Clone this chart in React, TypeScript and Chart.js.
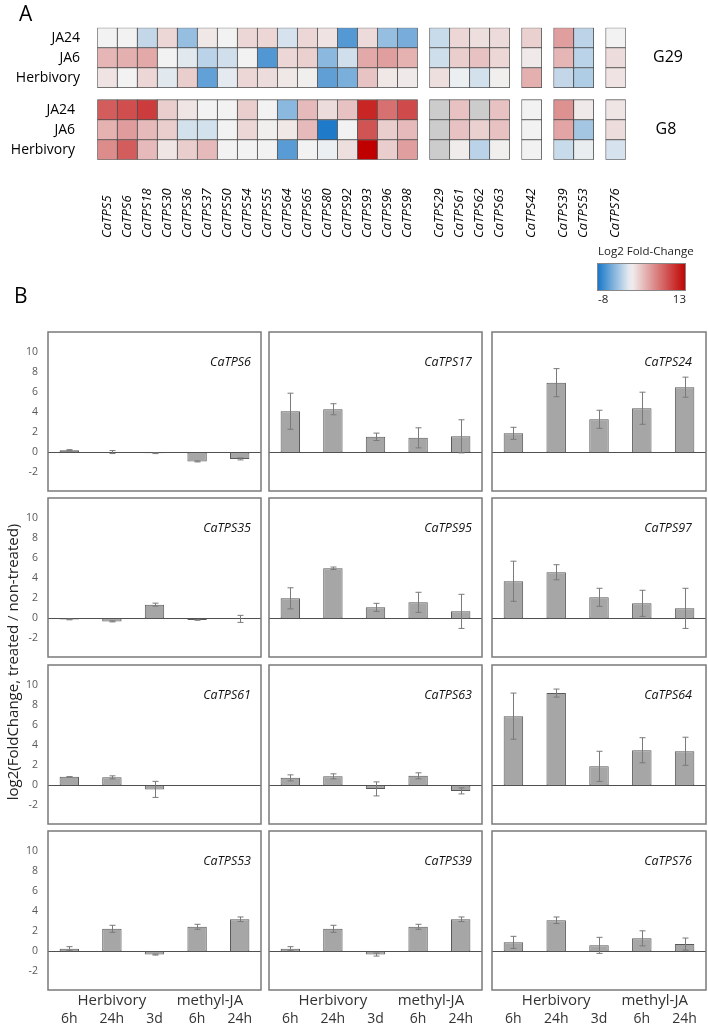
import React, { useEffect, useRef } from 'react';
import { Chart, registerables } from 'chart.js';

Chart.register(...registerables);

const FONT = "'Open Sans', 'DejaVu Sans', sans-serif";
Chart.defaults.font.family = FONT;

// ---------------- Panel A data ----------------
const genes = ['CaTPS5', 'CaTPS6', 'CaTPS18', 'CaTPS30', 'CaTPS36', 'CaTPS37', 'CaTPS50', 'CaTPS54', 'CaTPS55', 'CaTPS64', 'CaTPS65', 'CaTPS80', 'CaTPS92', 'CaTPS93', 'CaTPS96', 'CaTPS98', 'CaTPS29', 'CaTPS61', 'CaTPS62', 'CaTPS63', 'CaTPS42', 'CaTPS39', 'CaTPS53', 'CaTPS76'];
const geneGroup = [0, 0, 0, 0, 0, 0, 0, 0, 0, 0, 0, 0, 0, 0, 0, 0, 1, 1, 1, 1, 2, 3, 3, 4];
const conditionLabels = ['JA24', 'JA6', 'Herbivory'];
const blockLabels = ['G29', 'G8'];

const g29JA24 = [0, 0, -1.7, 1.5, -3.3, 0.6, 0, 1.5, 1.5, -1, 1.5, 0.8, -5.7, 1.3, -3.3, -4.4, -1.5, 1.5, 1.0, 1.3, 1.8, 4.5, -1.9, 0];
const g29JA6 = [3.2, 3.6, 4, 0, -0.6, -2, -1.2, 0, -5.8, 1.5, 1.8, -3.7, -1.2, 4, 4.5, 3.5, -1.3, 2, 2.6, 1.5, 0.5, 3.2, -2, 1.2];
const g29Herb = [0.8, 0, 1.5, -0.6, 2, -5.2, -0.5, 1.5, 1.2, 0.6, 0.2, -5.3, -4.3, 2.5, 0.6, 0.5, 1.0, -0.2, -1.1, 0.2, 3.6, -1.7, -2.4, 0.8];
const g8JA24 = [8, 8.8, 9.8, 2, 0.7, 0, 0, 2, 0, -3.7, 3, 1.2, 2.6, 11, 7, 9, null, 2.6, null, 2.6, 0, 5.2, 0.5, 0.7];
const g8JA6 = [3.5, 4.6, 3, 2, -1.1, -1.1, 0, 1.5, 0.2, 0.6, 3, -7.6, 0, 8.5, 2, 3, null, 2.6, 1.8, 2.6, 0, 4.2, -2.8, 1.2];
const g8Herb = [5.5, 8, 3, 0.7, 2, 3, 0, 0, 0, -5.5, 0, -0.2, 1, 13, 2, 4.5, null, 0.3, -2, 0.2, 0, -1.5, -0.3, -1];
const heatRows = [g29JA24, g29JA6, g29Herb, g8JA24, g8JA6, g8Herb];

const legendMin = -8;
const legendMax = 13;
const legendTitle = 'Log2 Fold-Change';

// ---------------- Panel B data ----------------
const timeLabels = ['6h', '24h', '3d', '6h', '24h'];
const groupLabels = ['Herbivory', 'methyl-JA'];
const groupCenters = [1, 3.3];
const yTicks = [-2, 0, 2, 4, 6, 8, 10];
const Y_MIN = -3.85;
const Y_MAX = 12;
const yTitle = 'log2(FoldChange, treated / non-treated)';

const panelGenes = ['CaTPS6', 'CaTPS17', 'CaTPS24', 'CaTPS35', 'CaTPS95', 'CaTPS97', 'CaTPS61', 'CaTPS63', 'CaTPS64', 'CaTPS53', 'CaTPS39', 'CaTPS76'];

const caTPS6 = [0.22, 0.03, -0.08, -0.9, -0.65];
const caTPS6Err = [0.05, 0.15, 0.04, 0.05, 0.1];
const caTPS17 = [4.1, 4.3, 1.55, 1.45, 1.6];
const caTPS17Err = [1.8, 0.55, 0.37, 1.0, 1.65];
const caTPS24 = [1.9, 6.95, 3.3, 4.4, 6.5];
const caTPS24Err = [0.6, 1.4, 0.9, 1.6, 1.0];
const caTPS35 = [-0.1, -0.3, 1.37, -0.15, -0.05];
const caTPS35Err = [0.04, 0.05, 0.15, 0.04, 0.35];
const caTPS95 = [2.0, 5.0, 1.1, 1.6, 0.7];
const caTPS95Err = [1.05, 0.12, 0.4, 1.0, 1.7];
const caTPS97 = [3.7, 4.6, 2.1, 1.5, 1.0];
const caTPS97Err = [2.0, 0.75, 0.9, 1.3, 2.0];
const caTPS61 = [0.85, 0.8, -0.4, null, null];
const caTPS61Err = [0.02, 0.15, 0.8, 0, 0];
const caTPS63 = [0.75, 0.9, -0.35, 0.95, -0.55];
const caTPS63Err = [0.3, 0.25, 0.7, 0.3, 0.3];
const caTPS64 = [6.9, 9.2, 1.9, 3.5, 3.4];
const caTPS64Err = [2.3, 0.4, 1.5, 1.25, 1.4];
const caTPS53 = [0.27, 2.25, -0.32, 2.45, 3.2];
const caTPS53Err = [0.2, 0.35, 0.05, 0.25, 0.23];
const caTPS39 = [0.27, 2.25, -0.32, 2.45, 3.2];
const caTPS39Err = [0.2, 0.35, 0.15, 0.25, 0.23];
const caTPS76 = [0.9, 3.1, 0.6, 1.3, 0.73];
const caTPS76Err = [0.6, 0.33, 0.8, 0.75, 0.6];

const panelValues = [caTPS6, caTPS17, caTPS24, caTPS35, caTPS95, caTPS97, caTPS61, caTPS63, caTPS64, caTPS53, caTPS39, caTPS76];
const panelErrors = [caTPS6Err, caTPS17Err, caTPS24Err, caTPS35Err, caTPS95Err, caTPS97Err, caTPS61Err, caTPS63Err, caTPS64Err, caTPS53Err, caTPS39Err, caTPS76Err];

// ---------------- Layout ----------------
const colLefts = [48, 269, 492];
const colWidths = [213, 213, 214];
const rowTops = [332, 498, 665, 831];
const BOX_H = 159;
const labelMargins = [10, 10, 14];

const colPos = genes.map((_, k) => k + 0.6 * geneGroup[k]);
const rowStart = heatRows.map((_, r) => Math.floor(r / 3) * 3.6 + (r % 3));

function heatColor(v: number | null): string {
  if (v === null || v === undefined) return '#cccccc';
  const base = [242, 242, 242];
  const end = v < 0 ? [20, 117, 200] : [192, 0, 0];
  const t = v < 0 ? Math.min(1, -v / 8) : Math.min(1, v / 13);
  const c = base.map((b, i) => Math.round(b + (end[i] - b) * t));
  return `rgb(${c[0]},${c[1]},${c[2]})`;
}

function zeroPad(s: any) {
  s.paddingTop = 0;
  s.paddingBottom = 0;
  s.paddingLeft = 0;
  s.paddingRight = 0;
}

function Heatmap() {
  const ref = useRef<HTMLCanvasElement>(null);
  useEffect(() => {
    const datasets = heatRows.map((vals, r) => ({
      data: vals.map((_, k) => ({ x: colPos[k] + 0.5, y: [rowStart[r], rowStart[r] + 1] })),
      backgroundColor: vals.map((v) => heatColor(v as any)),
      borderColor: '#4d4d4d',
      borderWidth: 0.8,
      borderSkipped: false,
      barPercentage: 1,
      categoryPercentage: 1,
      grouped: false,
    }));
    const labelsPlugin = {
      id: 'heatLabels',
      afterDraw(chart: any) {
        const { ctx } = chart;
        const xs = chart.scales.x;
        const ys = chart.scales.y;
        ctx.save();
        ctx.fillStyle = '#000';
        ctx.textBaseline = 'middle';
        ctx.textAlign = 'left';
        ctx.font = `21px ${FONT}`;
        ctx.fillText('A', 19, 15);
        ctx.fillText('B', 14, 297);
        // condition labels
        ctx.font = `14px ${FONT}`;
        ctx.textAlign = 'right';
        heatRows.forEach((_, r) => {
          const b = Math.floor(r / 3);
          ctx.fillText(conditionLabels[r % 3], b === 0 ? 80 : 75, ys.getPixelForValue(rowStart[r] + 0.5));
        });
        // block labels
        ctx.font = `16px ${FONT}`;
        ctx.textAlign = 'center';
        blockLabels.forEach((lab, b) => {
          ctx.fillText(lab, b === 0 ? 668 : 666, ys.getPixelForValue(b * 3.6 + 1.5));
        });
        // gene labels
        ctx.font = `italic 13px ${FONT}`;
        ctx.textAlign = 'left';
        genes.forEach((g, k) => {
          const x = xs.getPixelForValue(colPos[k] + 0.5);
          ctx.save();
          ctx.translate(x, 238);
          ctx.rotate(-Math.PI / 2);
          ctx.fillText(g, 0, 0);
          ctx.restore();
        });
        // colour legend
        const lx = 597, ly = 263, lw = 89, lh = 28;
        ctx.font = `11.5px ${FONT}`;
        ctx.textAlign = 'left';
        ctx.fillStyle = '#222';
        ctx.fillText(legendTitle, 598, 252);
        const grad = ctx.createLinearGradient(lx, 0, lx + lw, 0);
        for (let s = 0; s <= 20; s++) {
          grad.addColorStop(s / 20, heatColor(legendMin + ((legendMax - legendMin) * s) / 20));
        }
        ctx.fillStyle = grad;
        ctx.fillRect(lx, ly, lw, lh);
        ctx.strokeStyle = '#888';
        ctx.lineWidth = 1;
        ctx.strokeRect(lx + 0.5, ly + 0.5, lw - 1, lh - 1);
        ctx.fillStyle = '#222';
        ctx.fillText(String(legendMin), 598, 300);
        ctx.textAlign = 'right';
        ctx.fillText(String(legendMax), 686, 300);
        // y title of panel B
        ctx.save();
        ctx.translate(14, 662);
        ctx.rotate(-Math.PI / 2);
        ctx.font = `15px ${FONT}`;
        ctx.textAlign = 'center';
        ctx.fillStyle = '#222';
        ctx.fillText(yTitle, 0, 0);
        ctx.restore();
        ctx.restore();
      },
    };
    const chart = new Chart(ref.current as HTMLCanvasElement, {
      type: 'bar',
      data: { datasets: datasets as any },
      options: {
        responsive: false,
        animation: false,
        layout: { padding: { left: 97.3, right: 708 - 625.7, top: 27.7, bottom: 1026 - 159.7 } },
        plugins: { legend: { display: false }, tooltip: { enabled: false } },
        scales: {
          x: { type: 'linear', display: false, offset: false, min: 0, max: 26.4, ticks: { stepSize: 100 }, afterFit: zeroPad },
          y: { type: 'linear', display: false, offset: false, min: 0, max: 6.6, reverse: true, afterFit: zeroPad },
        },
      } as any,
      plugins: [labelsPlugin],
    });
    return () => chart.destroy();
  }, []);
  return (
    <canvas
      ref={ref}
      width={708}
      height={1026}
      style={{ position: 'absolute', left: 0, top: 0, width: 708, height: 1026 }}
    />
  );
}

function BarPanel({ index }: { index: number }) {
  const ref = useRef<HTMLCanvasElement>(null);
  const col = index % 3;
  const row = Math.floor(index / 3);
  const isLeft = col === 0;
  const isBottom = row === 3;
  const boxL = colLefts[col];
  const boxW = colWidths[col];
  const padL = isLeft ? boxL : 2;
  const left = boxL - padL;
  const top = rowTops[row] - 2;
  const w = padL + boxW + 2;
  const h = 2 + BOX_H + (isBottom ? 35 : 2);

  useEffect(() => {
    const values = panelValues[index];
    const errors = panelErrors[index];
    const deco = {
      id: 'panelDeco',
      beforeDatasetsDraw(chart: any) {
        const { ctx, chartArea } = chart;
        const y0 = Math.round(chart.scales.y.getPixelForValue(0)) + 0.5;
        ctx.save();
        ctx.strokeStyle = '#505050';
        ctx.lineWidth = 1;
        ctx.beginPath();
        ctx.moveTo(chartArea.left, y0);
        ctx.lineTo(chartArea.right, y0);
        ctx.stroke();
        ctx.restore();
      },
      afterDatasetsDraw(chart: any) {
        const { ctx } = chart;
        const meta = chart.getDatasetMeta(0);
        const ys = chart.scales.y;
        ctx.save();
        ctx.strokeStyle = '#7a7a7a';
        ctx.lineWidth = 1;
        values.forEach((v, i) => {
          if (v === null) return;
          const e = errors[i];
          const x = Math.round(meta.data[i].x) + 0.5;
          const yt = ys.getPixelForValue((v as number) + e);
          const yb = ys.getPixelForValue((v as number) - e);
          ctx.beginPath();
          ctx.moveTo(x, yt);
          ctx.lineTo(x, yb);
          ctx.moveTo(x - 3, yt);
          ctx.lineTo(x + 3, yt);
          ctx.moveTo(x - 3, yb);
          ctx.lineTo(x + 3, yb);
          ctx.stroke();
        });
        ctx.restore();
      },
      afterDraw(chart: any) {
        const { ctx, chartArea } = chart;
        ctx.save();
        ctx.strokeStyle = '#7a7a7a';
        ctx.lineWidth = 1.5;
        ctx.strokeRect(chartArea.left, chartArea.top, chartArea.right - chartArea.left, chartArea.bottom - chartArea.top);
        ctx.fillStyle = '#111';
        ctx.font = `italic 12.5px ${FONT}`;
        ctx.textAlign = 'right';
        ctx.textBaseline = 'middle';
        ctx.fillText(panelGenes[index], chartArea.right - labelMargins[col], chartArea.top + 30);
        if (isBottom) {
          const xs = chart.scales.x;
          ctx.font = `15px ${FONT}`;
          ctx.textAlign = 'center';
          ctx.fillStyle = '#333';
          groupLabels.forEach((g, gi) => {
            ctx.fillText(g, xs.getPixelForValue(groupCenters[gi]), chartArea.bottom + 11);
          });
        }
        ctx.restore();
      },
    };
    const chart = new Chart(ref.current as HTMLCanvasElement, {
      type: 'bar',
      data: {
        labels: timeLabels,
        datasets: [
          {
            data: values as any,
            backgroundColor: '#a6a6a6',
            borderColor: '#595959',
            borderWidth: 1,
            borderSkipped: false,
            barPercentage: 0.455,
            categoryPercentage: 1,
          },
        ],
      },
      options: {
        responsive: false,
        animation: false,
        layout: { padding: { left: isLeft ? 0 : 2, right: 2, top: 2, bottom: isBottom ? 0 : 2 } },
        plugins: { legend: { display: false }, tooltip: { enabled: false } },
        scales: {
          x: {
            display: isBottom,
            grid: { display: false, drawTicks: false },
            border: { display: false },
            ticks: { padding: 21, autoSkip: false, maxRotation: 0, color: '#333', font: { size: 14 } },
            afterFit: (s: any) => {
              if (isBottom) s.height = 35;
              zeroPad(s);
            },
          },
          y: {
            display: isLeft,
            min: Y_MIN,
            max: Y_MAX,
            grid: { display: false, drawTicks: false },
            border: { display: false },
            afterBuildTicks: (s: any) => {
              s.ticks = yTicks.map((v) => ({ value: v }));
            },
            afterFit: (s: any) => {
              if (isLeft) s.width = boxL;
              zeroPad(s);
            },
            ticks: { padding: 10, color: '#595959', font: { size: 10.5 } },
          },
        },
      } as any,
      plugins: [deco],
    });
    return () => chart.destroy();
  }, []);

  return (
    <canvas ref={ref} width={w} height={h} style={{ position: 'absolute', left, top, width: w, height: h }} />
  );
}

export default function App() {
  return (
    <div style={{ position: 'absolute', left: 0, top: 0, width: 708, height: 1026, background: '#fff', overflow: 'hidden' }}>
      <Heatmap />
      {panelGenes.map((g, i) => (
        <BarPanel key={g + i} index={i} />
      ))}
    </div>
  );
}
